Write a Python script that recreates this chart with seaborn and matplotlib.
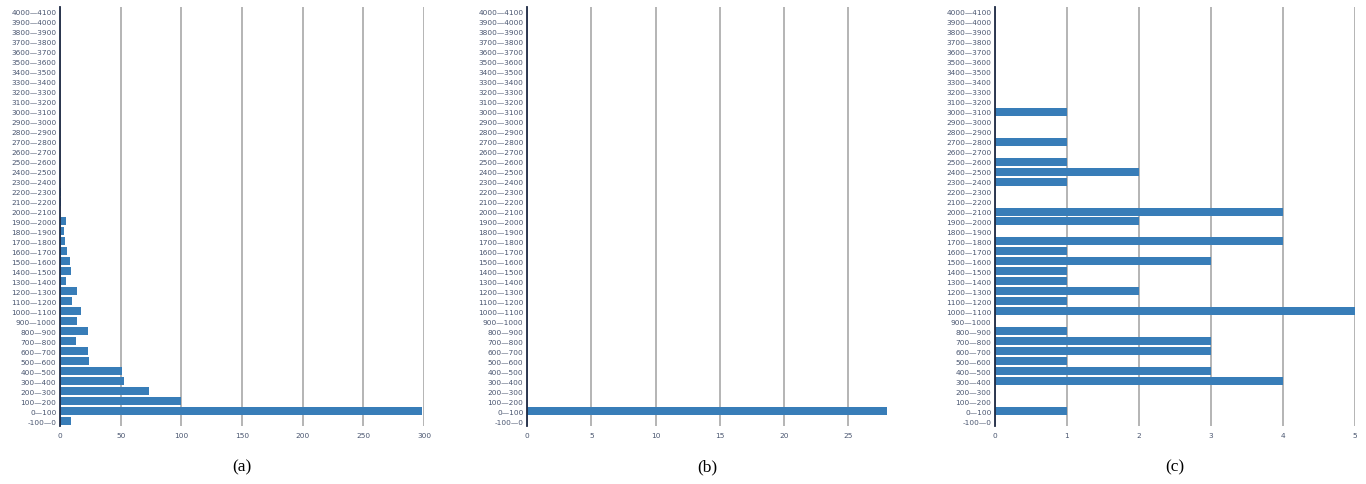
import numpy as np
import pandas as pd
import matplotlib
matplotlib.use("Agg")
import matplotlib.pyplot as plt
import seaborn as sns

# Intervalos (de -100 a 4100, paso 100)
rangos = [f"{a}\u2014{a + 100}" for a in range(-100, 4100, 100)]

# Frecuencias de cada panel, en el mismo orden que rangos (de -100 hacia arriba)
valores_a = [9, 298, 100, 73, 53, 51, 24, 23, 13, 23, 14, 17, 10, 14, 5, 9, 8, 6, 4.5, 3,
             5, 0, 1, 1, 0, 0, 0, 0, 0, 0, 0, 0, 0, 0, 0, 0, 0, 0, 0, 0, 0, 0]
valores_b = [0, 28] + [0] * 40
valores_c = [0, 1, 0, 0, 4, 3, 1, 3, 3, 1, 0, 5, 1, 2, 1, 1, 3, 1, 4, 0,
             2, 4, 0, 0, 1, 2, 1, 0, 1, 0, 0, 1, 0, 0, 0, 0, 0, 0, 0, 0, 0, 0]

ticks_a = [0, 50, 100, 150, 200, 250, 300]
ticks_b = [0, 5, 10, 15, 20, 25]
ticks_c = [0, 1, 2, 3, 4, 5]

paneles = [
    ("(a)", valores_a, ticks_a, 300, 60, 424),
    ("(b)", valores_b, ticks_b, 28, 527, 887),
    ("(c)", valores_c, ticks_c, 5, 995, 1355),
]

sns.set_style("white")

W, H = 1366, 485
fig = plt.figure(figsize=(W / 100, H / 100), dpi=100)

orden = rangos[::-1]
color_barra = "#387db8"
color_texto = "#4a5670"

for etiqueta, valores, ticks, xmax, x0, x1 in paneles:
    ax = fig.add_axes([x0 / W, 1 - 427 / H, (x1 - x0) / W, 419 / H])
    df = pd.DataFrame({"rango": rangos, "n": valores})
    sns.barplot(data=df, x="n", y="rango", order=orden, orient="h",
                color=color_barra, saturation=1, width=0.8, linewidth=0,
                ax=ax, zorder=3)
    ax.set_xlim(0, xmax)
    ax.set_xticks(ticks)
    ax.set_xlabel("")
    ax.set_ylabel("")
    ax.grid(axis="x", color="#b4b4b4", linewidth=1.4, zorder=0)
    ax.grid(axis="y", visible=False)
    for lado in ["top", "right", "bottom"]:
        ax.spines[lado].set_visible(False)
    ax.spines["left"].set_color("#1e2a44")
    ax.spines["left"].set_linewidth(1.3)
    ax.spines["left"].set_zorder(4)
    ax.tick_params(axis="both", length=0, labelsize=5.3, labelcolor=color_texto)
    ax.tick_params(axis="y", pad=2.5)
    ax.tick_params(axis="x", pad=4)
    # Rótulo del panel debajo del eje
    fig.text((x0 + x1) / 2 / W, 1 - 467 / H, etiqueta, ha="center", va="center",
             fontsize=12.5, family="Liberation Serif", color="black")

plt.savefig("out.png", dpi=100)
plt.close()
